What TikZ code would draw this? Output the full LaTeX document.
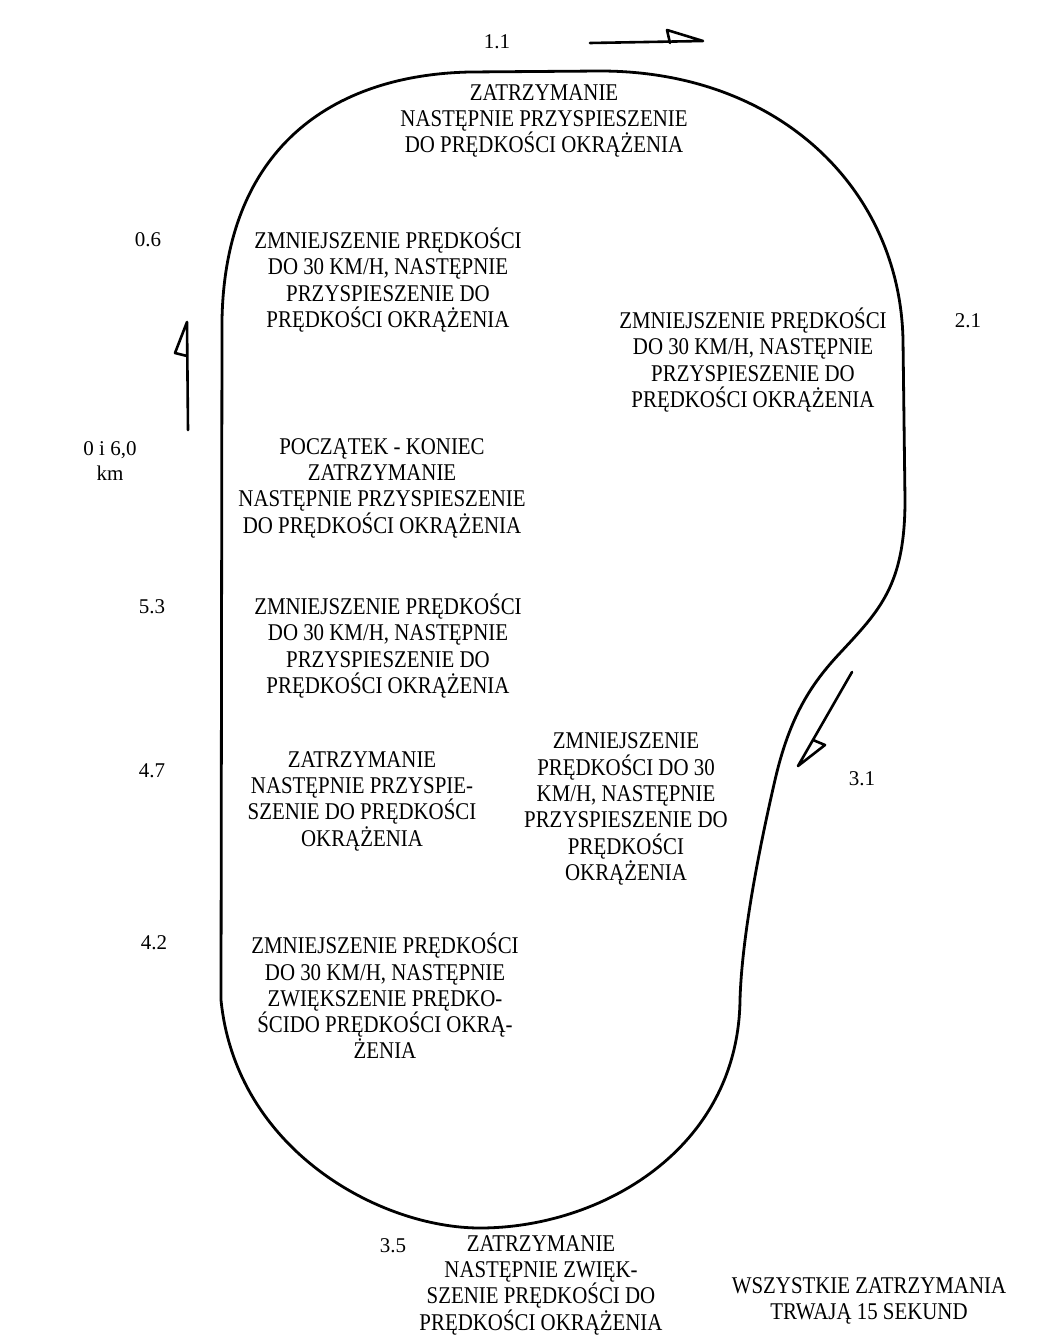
\documentclass[tikz,border=0pt]{standalone}
\usepackage{fontspec}
\setmainfont{Liberation Serif}
\newfontfamily\condfont{Liberation Serif}[FakeStretch=0.87]
\begin{document}
\begin{tikzpicture}[x=1pt,y=-1pt,
  track/.style={line width=2.8pt,line join=round},
  arr/.style={line width=2.6pt,line cap=round,line join=round},
  blk/.style={align=center,inner sep=0pt,font=\condfont\fontsize{24}{26.3}\selectfont},
  num/.style={align=center,inner sep=0pt,font=\fontsize{21}{25}\selectfont}]
\useasboundingbox (0,0) rectangle (1059,1343);
% track
\draw[track] (221,1000) -- (222,320)
  .. controls (225,150) and (330,75) .. (470,72)
  -- (600,71)
  .. controls (780,71) and (900,190) .. (903,340)
  -- (905,500)
  .. controls (905,585) and (880,610) .. (840,653)
  .. controls (812,683) and (790,715) .. (775,780)
  .. controls (763,832) and (742,930) .. (740,1000)
  .. controls (738,1150) and (600,1228) .. (480,1228)
  .. controls (380,1228) and (236,1150) .. (221,1000) -- cycle;
% direction arrows
\coordinate (a1s) at (590,43); \coordinate (a1t) at (703,41);
\coordinate (a1h) at (667,30); \coordinate (a1b) at (670,43);
\draw[arr] (a1s) -- (a1t) -- (a1h) -- (a1b);
\coordinate (a2s) at (188,430); \coordinate (a2t) at (187,322);
\coordinate (a2h) at (175,353); \coordinate (a2b) at (187,356);
\draw[arr] (a2s) -- (a2t) -- (a2h) -- (a2b);
\coordinate (a3s) at (852,672); \coordinate (a3t) at (798,766);
\coordinate (a3h) at (825,745); \coordinate (a3b) at (813,740);
\draw[arr] (a3s) -- (a3t) -- (a3h) -- (a3b);
% labels
\node[num] (n11) at (497,42) {1.1};
\node[num] (n06) at (148,240) {0.6};
\node[num] (n21) at (968,321) {2.1};
\node[num] (n0) at (110,461) {0 i 6,0\\km};
\node[num] (n53) at (152,607) {5.3};
\node[num] (n47) at (152,771) {4.7};
\node[num] (n31) at (862,779) {3.1};
\node[num] (n42) at (154,943) {4.2};
\node[num] (n35) at (393,1246) {3.5};
% text blocks
\node[blk] (b11) at (544,121) {ZATRZYMANIE\\NASTĘPNIE PRZYSPIESZENIE\\DO PRĘDKOŚCI OKRĄŻENIA};
\node[blk] (b06) at (388,280) {ZMNIEJSZENIE PRĘDKOŚCI\\DO 30 KM/H, NASTĘPNIE\\PRZYSPIESZENIE DO\\PRĘDKOŚCI OKRĄŻENIA};
\node[blk] (b21) at (753,360) {ZMNIEJSZENIE PRĘDKOŚCI\\DO 30 KM/H, NASTĘPNIE\\PRZYSPIESZENIE DO\\PRĘDKOŚCI OKRĄŻENIA};
\node[blk] (b0) at (382,488) {POCZĄTEK - KONIEC\\ZATRZYMANIE\\NASTĘPNIE PRZYSPIESZENIE\\DO PRĘDKOŚCI OKRĄŻENIA};
\node[blk] (b53) at (388,646) {ZMNIEJSZENIE PRĘDKOŚCI\\DO 30 KM/H, NASTĘPNIE\\PRZYSPIESZENIE DO\\PRĘDKOŚCI OKRĄŻENIA};
\node[blk] (b47) at (362,801) {ZATRZYMANIE\\NASTĘPNIE PRZYSPIE-\\SZENIE DO PRĘDKOŚCI\\OKRĄŻENIA};
\node[blk] (b31) at (626,809) {ZMNIEJSZENIE\\PRĘDKOŚCI DO 30\\KM/H, NASTĘPNIE\\PRZYSPIESZENIE DO\\PRĘDKOŚCI\\OKRĄŻENIA};
\node[blk] (b42) at (385,996) {ZMNIEJSZENIE PRĘDKOŚCI\\DO 30 KM/H, NASTĘPNIE\\ZWIĘKSZENIE PRĘDKO-\\ŚCIDO PRĘDKOŚCI OKRĄ-\\ŻENIA};
\node[blk] (b35) at (541,1285) {ZATRZYMANIE\\NASTĘPNIE ZWIĘK-\\SZENIE PRĘDKOŚCI DO\\PRĘDKOŚCI OKRĄŻENIA};
\node[blk] (ball) at (869,1301) {WSZYSTKIE ZATRZYMANIA\\TRWAJĄ 15 SEKUND};
\end{tikzpicture}
\end{document}
